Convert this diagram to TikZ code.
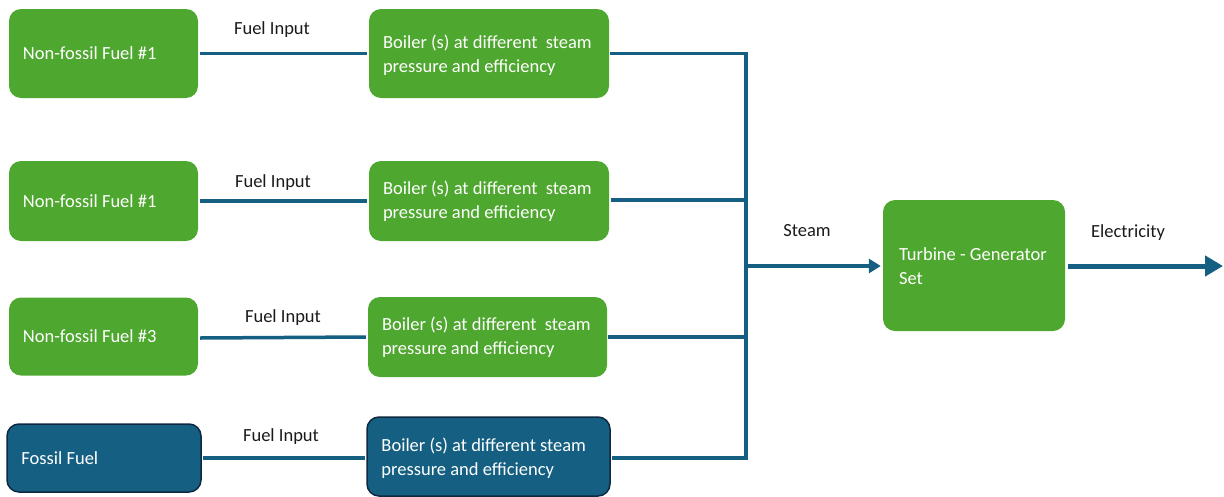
\documentclass[tikz,border=0pt]{standalone}
\usepackage{fontspec}
\setmainfont{Carlito}
\usetikzlibrary{arrows.meta}
\definecolor{leaf}{HTML}{4EA72E}
\definecolor{ocean}{HTML}{156082}
\definecolor{deepnavy}{HTML}{0E2841}
\definecolor{ink}{HTML}{1A1A1A}
\begin{document}
\begin{tikzpicture}[x=1pt,y=-1pt,
  box/.style={rounded corners=12pt, fill=leaf, draw=none, inner sep=0pt},
  fossil/.style={fill=ocean, draw=deepnavy, line width=1.5pt},
  boxtext/.style={text=white, font=\fontsize{18.5}{24}\selectfont,
    align=left, inner sep=0pt, anchor=west},
  pipe/.style={draw=ocean, line width=3.5pt},
  lbl/.style={font=\fontsize{18.5}{22}\selectfont, text=ink}]
\useasboundingbox (0,0) rectangle (1224,496);

% fuel sources
\node[box, minimum width=189pt, minimum height=89pt] (f1) at (103.5,53.5) {};
\node[box, minimum width=189pt, minimum height=80pt] (f2) at (103.5,201) {};
\node[box, minimum width=189pt, minimum height=78pt] (f3) at (103.5,336.5) {};
\node[box, fossil, minimum width=194pt, minimum height=68pt] (f4) at (104,458) {};
\node[boxtext] (t1) at ([xshift=14pt]f1.west) {Non-fossil Fuel \#1};
\node[boxtext] (t2) at ([xshift=14pt]f2.west) {Non-fossil Fuel \#1};
\node[boxtext] (t3) at ([xshift=14pt]f3.west) {Non-fossil Fuel \#3};
\node[boxtext] (t4) at ([xshift=15pt]f4.west) {Fossil Fuel};

% boilers
\node[box, minimum width=240pt, minimum height=89pt] (b1) at (489,53.5) {};
\node[box, minimum width=240pt, minimum height=80pt] (b2) at (489,201) {};
\node[box, minimum width=239pt, minimum height=80pt] (b3) at (487.5,337) {};
\node[box, fossil, minimum width=243pt, minimum height=79pt] (b4) at (488.5,456.5) {};
\node[boxtext] (s1) at ([xshift=14pt,yshift=-1.5pt]b1.west)
  {Boiler (s) at different\ \ steam\\pressure and efficiency};
\node[boxtext] (s2) at ([xshift=14pt]b2.west)
  {Boiler (s) at different\ \ steam\\pressure and efficiency};
\node[boxtext] (s3) at ([xshift=14pt]b3.west)
  {Boiler (s) at different\ \ steam\\pressure and efficiency};
\node[boxtext] (s4) at ([xshift=15pt,yshift=-1.5pt]b4.west)
  {Boiler (s) at different steam\\pressure and efficiency};

% turbine-generator set
\node[box, minimum width=182pt, minimum height=131pt] (tg) at (974,265.5) {};
\node[boxtext] (tt) at ([xshift=16pt,yshift=-1pt]tg.west) {Turbine - Generator\\Set};

% fuel input lines
\draw[pipe] ([xshift=2pt]f1.east) -- ([xshift=-2pt]b1.west);
\draw[pipe] ([xshift=2pt]f2.east) -- ([xshift=-2pt]b2.west);
\draw[pipe] ([xshift=2pt,yshift=-1.5pt]f3.east) -- ([xshift=-2pt]b3.west);
\draw[pipe] ([xshift=1pt]f4.east) -- ([xshift=-1pt,yshift=-1.5pt]b4.west);

% steam header collecting all boilers
\coordinate (hdrtop) at (746,53.5);
\coordinate (hdrbot) at (746,458);
\coordinate (hdrmid) at (746,266);
\coordinate (b2out) at ([xshift=2pt,yshift=1pt]b2.east);
\draw[pipe] ([xshift=1pt]b1.east) -- (hdrtop) -- (hdrbot) -- ([xshift=1pt,yshift=-1.5pt]b4.east);
\draw[pipe] (b2out) -- (hdrtop |- b2out);
\draw[pipe] ([xshift=1pt]b3.east) -- (hdrtop |- b3.east);
\draw[pipe, -{Triangle[length=12pt,width=14pt]}] (hdrmid) -- ([xshift=-2pt]tg.west |- hdrmid);

% electricity output
\coordinate (out) at (1223,266);
\draw[draw=ocean, line width=5pt, -{Triangle[length=18pt,width=20pt]}]
  ([xshift=3pt]tg.east |- out) -- (out);

% labels
\node[lbl] (l1) at (272,30) {Fuel Input};
\node[lbl] (l2) at (273,183) {Fuel Input};
\node[lbl] (l3) at (283,318) {Fuel Input};
\node[lbl] (l4) at (281,437) {Fuel Input};
\node[lbl] (ls) at (807,231) {Steam};
\node[lbl] (le) at (1128,233) {Electricity};
\end{tikzpicture}
\end{document}
